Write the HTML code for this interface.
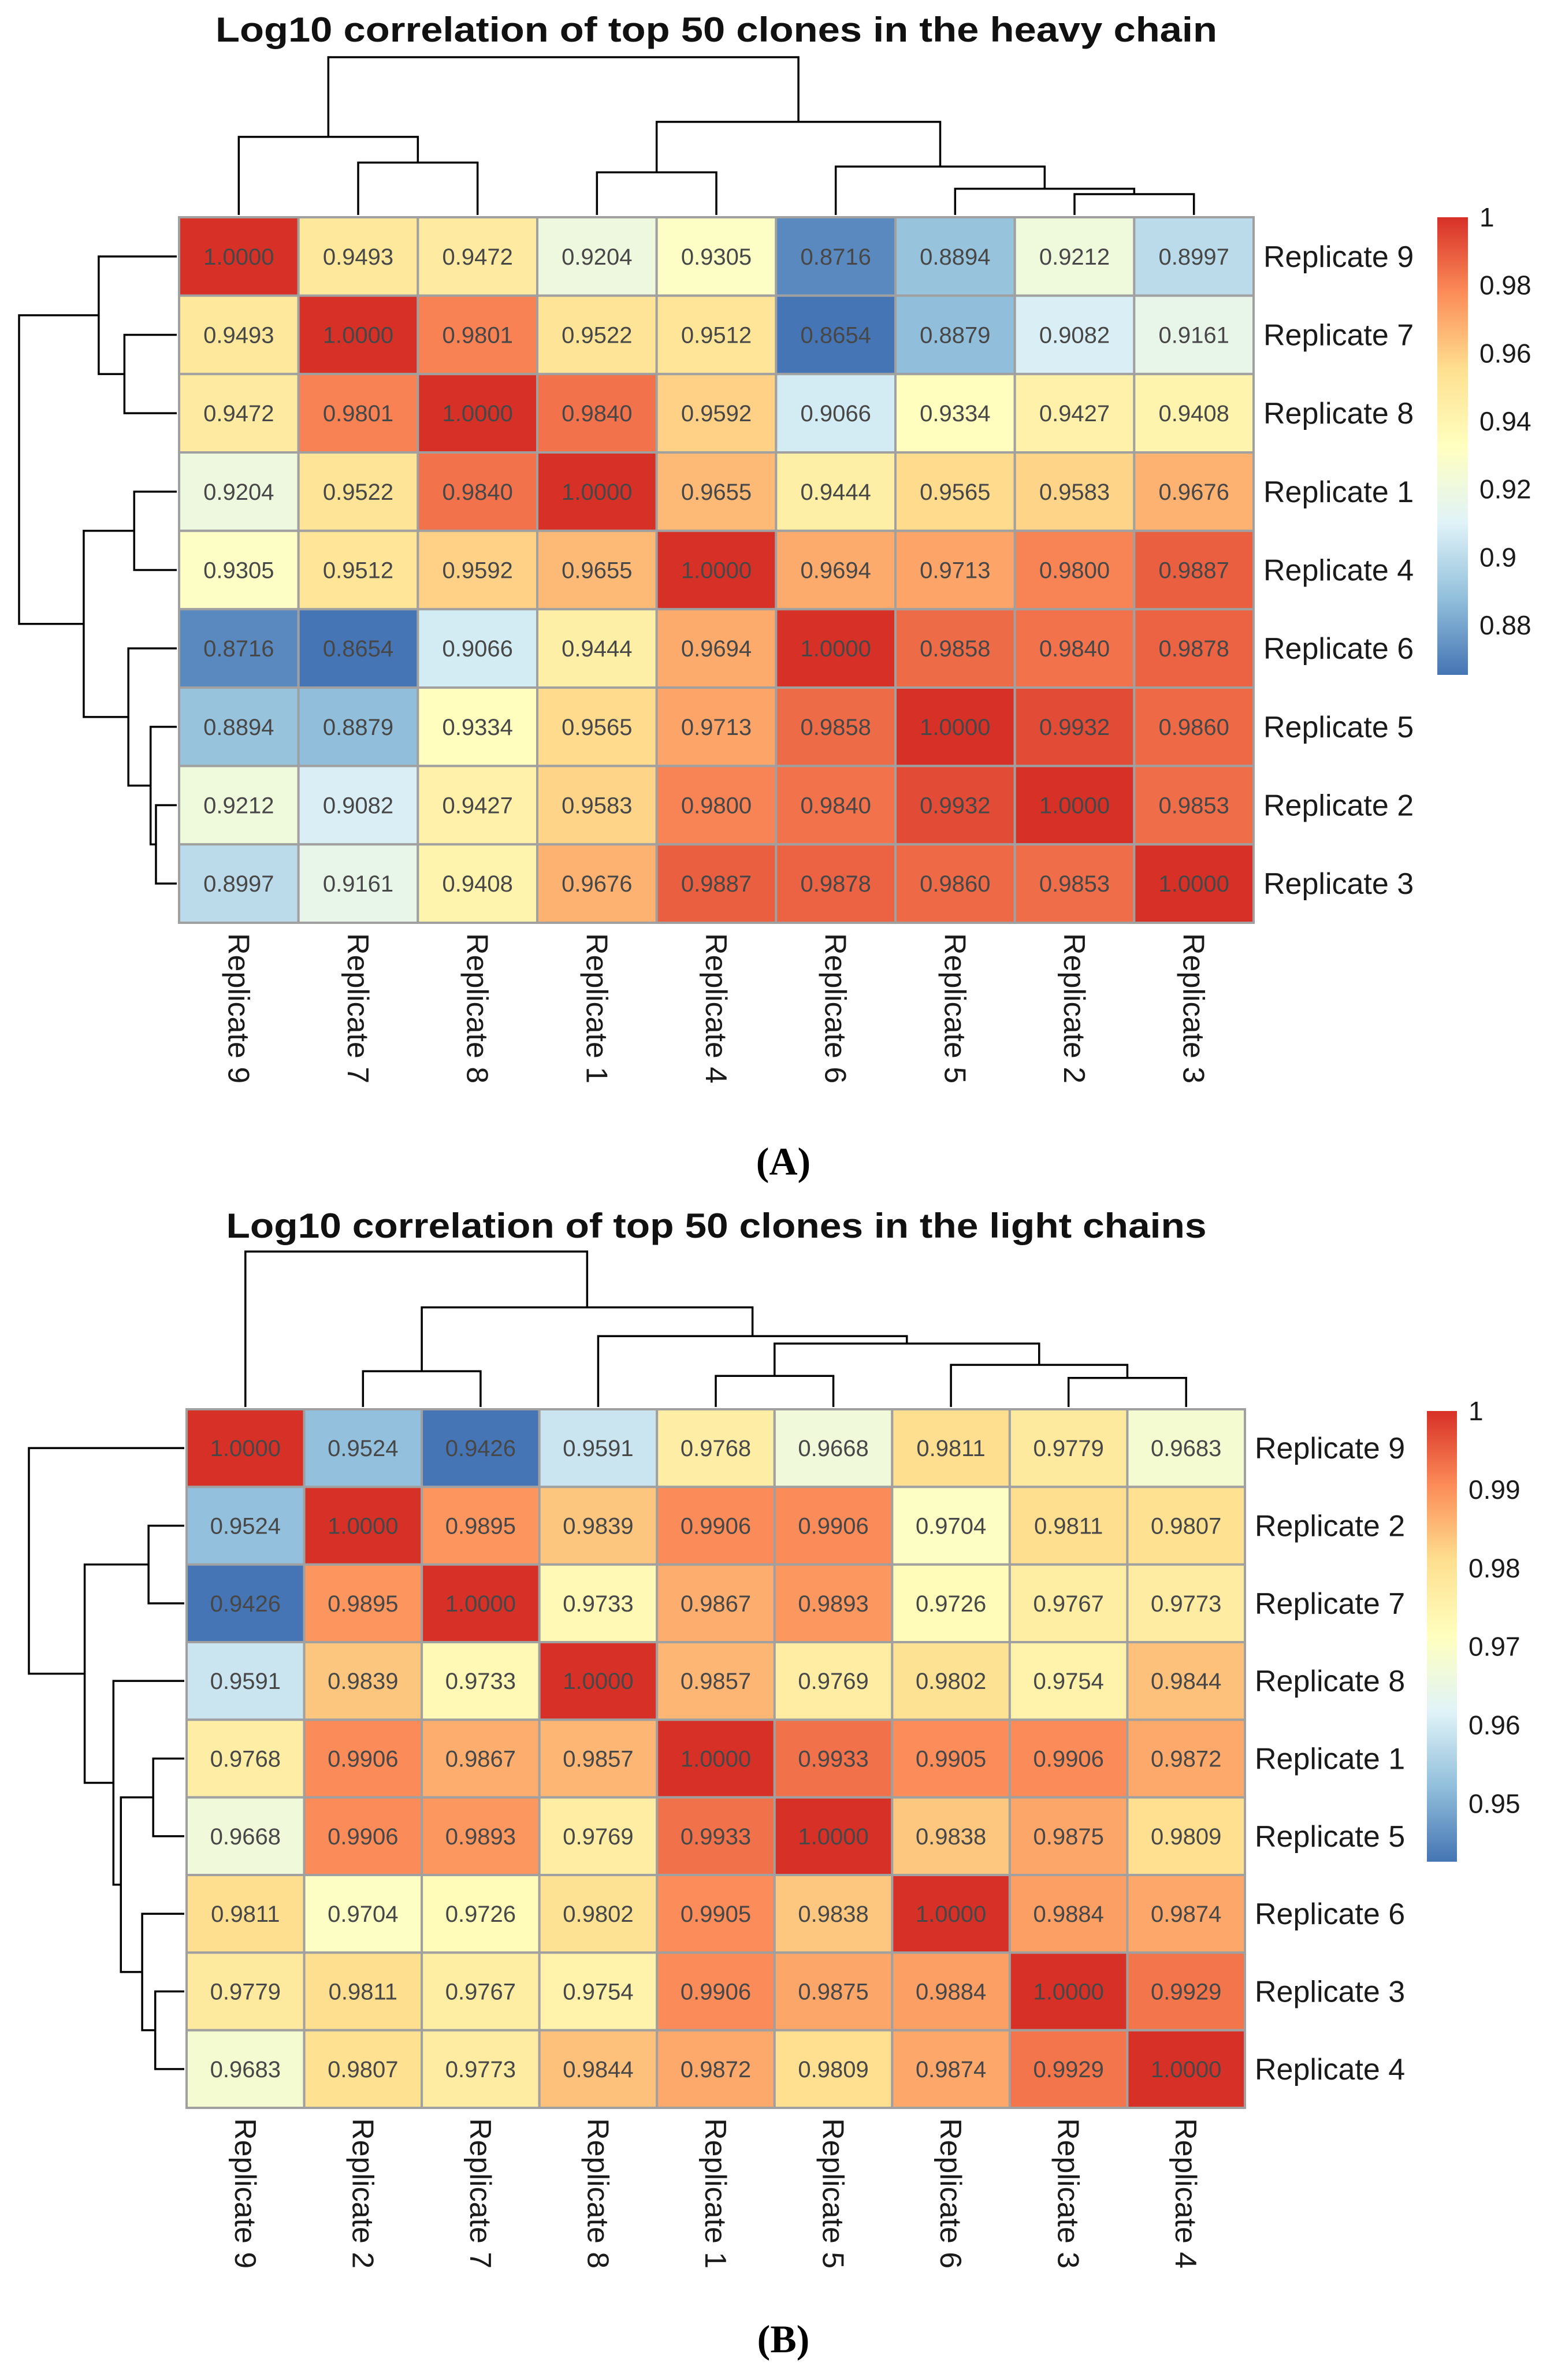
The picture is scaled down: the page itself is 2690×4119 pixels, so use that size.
<!DOCTYPE html>
<html><head><meta charset="utf-8"><style>
html,body{margin:0;padding:0;background:#fff}
svg{display:block}
</style></head><body>
<svg id="chart" xmlns="http://www.w3.org/2000/svg" width="2690" height="4119" viewBox="0 0 2690 4119">
<rect width="2690" height="4119" fill="#fff"/>
<text x="1240" y="72" font-family="Liberation Sans, sans-serif" font-weight="bold" font-size="60" text-anchor="middle" textLength="1734" lengthAdjust="spacingAndGlyphs" fill="#111">Log10 correlation of top 50 clones in the heavy chain</text>
<text x="1240" y="2142" font-family="Liberation Sans, sans-serif" font-weight="bold" font-size="60" text-anchor="middle" textLength="1697" lengthAdjust="spacingAndGlyphs" fill="#111">Log10 correlation of top 50 clones in the light chains</text>
<text x="1356" y="2033" font-family="Liberation Serif, serif" font-weight="bold" font-size="68" text-anchor="middle" fill="#000">(A)</text>
<text x="1356" y="4071" font-family="Liberation Serif, serif" font-weight="bold" font-size="68" text-anchor="middle" fill="#000">(B)</text>
<defs>
<linearGradient id="rdylbu" x1="0" y1="1" x2="0" y2="0">
<stop offset="0" stop-color="#4575B4"/><stop offset="0.1667" stop-color="#91BFDB"/><stop offset="0.3333" stop-color="#E0F3F8"/><stop offset="0.5" stop-color="#FFFFBF"/><stop offset="0.6667" stop-color="#FEE090"/><stop offset="0.8333" stop-color="#FC8D59"/><stop offset="1" stop-color="#D73027"/>
</linearGradient>
</defs>
</svg>
<script>
const labelsA = ["Replicate 9","Replicate 7","Replicate 8","Replicate 1","Replicate 4","Replicate 6","Replicate 5","Replicate 2","Replicate 3"];
const matrixA = [
[1.0000,0.9493,0.9472,0.9204,0.9305,0.8716,0.8894,0.9212,0.8997],
[0.9493,1.0000,0.9801,0.9522,0.9512,0.8654,0.8879,0.9082,0.9161],
[0.9472,0.9801,1.0000,0.9840,0.9592,0.9066,0.9334,0.9427,0.9408],
[0.9204,0.9522,0.9840,1.0000,0.9655,0.9444,0.9565,0.9583,0.9676],
[0.9305,0.9512,0.9592,0.9655,1.0000,0.9694,0.9713,0.9800,0.9887],
[0.8716,0.8654,0.9066,0.9444,0.9694,1.0000,0.9858,0.9840,0.9878],
[0.8894,0.8879,0.9334,0.9565,0.9713,0.9858,1.0000,0.9932,0.9860],
[0.9212,0.9082,0.9427,0.9583,0.9800,0.9840,0.9932,1.0000,0.9853],
[0.8997,0.9161,0.9408,0.9676,0.9887,0.9878,0.9860,0.9853,1.0000]];
const treeA = [[0,[1,2,0.332],0.495],[[3,4,0.27],[5,[6,[7,8,0.132],0.166],0.307],0.59],1.0];
const ticksA = [1,0.98,0.96,0.94,0.92,0.9,0.88];
const tickLabelsA = ["1","0.98","0.96","0.94","0.92","0.9","0.88"];

const labelsB = ["Replicate 9","Replicate 2","Replicate 7","Replicate 8","Replicate 1","Replicate 5","Replicate 6","Replicate 3","Replicate 4"];
const matrixB = [
[1.0000,0.9524,0.9426,0.9591,0.9768,0.9668,0.9811,0.9779,0.9683],
[0.9524,1.0000,0.9895,0.9839,0.9906,0.9906,0.9704,0.9811,0.9807],
[0.9426,0.9895,1.0000,0.9733,0.9867,0.9893,0.9726,0.9767,0.9773],
[0.9591,0.9839,0.9733,1.0000,0.9857,0.9769,0.9802,0.9754,0.9844],
[0.9768,0.9906,0.9867,0.9857,1.0000,0.9933,0.9905,0.9906,0.9872],
[0.9668,0.9906,0.9893,0.9769,0.9933,1.0000,0.9838,0.9875,0.9809],
[0.9811,0.9704,0.9726,0.9802,0.9905,0.9838,1.0000,0.9884,0.9874],
[0.9779,0.9811,0.9767,0.9754,0.9906,0.9875,0.9884,1.0000,0.9929],
[0.9683,0.9807,0.9773,0.9844,0.9872,0.9809,0.9874,0.9929,1.0000]];
const treeB = [0,[[1,2,0.23],[3,[[4,5,0.20],[6,[7,8,0.187],0.271],0.408],0.456],0.641],1.0];
const ticksB = [1,0.99,0.98,0.97,0.96,0.95];
const tickLabelsB = ["1","0.99","0.98","0.97","0.96","0.95"];

const NS = "http://www.w3.org/2000/svg";
const svg = document.getElementById("chart");
const palette = ["#4575B4","#91BFDB","#E0F3F8","#FFFFBF","#FEE090","#FC8D59","#D73027"];
function hex(c){return [1,3,5].map(i=>parseInt(c.substr(i,2),16));}
function colorAt(t){
  t=Math.max(0,Math.min(1,t));
  const s=t*(palette.length-1), i=Math.min(palette.length-2,Math.floor(s)), f=s-i;
  const a=hex(palette[i]), b=hex(palette[i+1]);
  return "rgb("+a.map((v,k)=>Math.round(v+(b[k]-v)*f)).join(",")+")";
}
function mk(tag, attrs, parent){
  const e=document.createElementNS(NS,tag);
  for(const k in attrs) e.setAttribute(k,attrs[k]);
  (parent||svg).appendChild(e); return e;
}

function panel(p, labels, matrix, tree, ticks, tickLabels, key){
  const g = mk("g",{});
  
  
  const n = labels.length;
  const cw = p.w/n, ch = p.h/n;
  let lo=Infinity, hi=-Infinity;
  matrix.forEach(r=>r.forEach(v=>{lo=Math.min(lo,v);hi=Math.max(hi,v);}));
  const xOf = j => p.x + cw*j;
  const yOf = i => p.y + ch*i;
  // cells
  for(let i=0;i<n;i++) for(let j=0;j<n;j++){
    const v=matrix[i][j];
    const r = mk("rect",{x:xOf(j),y:yOf(i),width:cw,height:ch,fill:colorAt((v-lo)/(hi-lo)),stroke:"#a0a0a0","stroke-width":4},g);
    
    
    const t = mk("text",{x:xOf(j)+cw/2,y:yOf(i)+ch/2+14,"text-anchor":"middle","font-family":"Liberation Sans, sans-serif","font-size":40,fill:"#474747"},g);
    t.textContent = v.toFixed(4);
    
    
  }
  // row labels
  for(let i=0;i<n;i++){
    const t = mk("text",{x:p.x+p.w+17,y:yOf(i)+ch/2+18,"font-family":"Liberation Sans, sans-serif","font-size":52,fill:"#1a1a1a"},g);
    t.textContent = labels[i];
    
    
  }
  // col labels
  for(let j=0;j<n;j++){
    const cx = xOf(j)+cw/2, cy = p.y+p.h+18;
    const t = mk("text",{x:0,y:0,transform:"translate("+(cx-18)+","+cy+") rotate(90)","font-family":"Liberation Sans, sans-serif","font-size":52,fill:"#1a1a1a"},g);
    t.textContent = labels[j];
    
    
  }
  // dendrograms
  function draw(node, orient){
    if(typeof node==="number"){
      return {pos: orient==="top" ? xOf(node)+cw/2 : yOf(node)+ch/2, h:0};
    }
    const a=draw(node[0],orient), b=draw(node[1],orient), h=node[2];
    const gap=4;
    if(orient==="top"){
      const yl = p.y-gap, yOfH = hh => yl - hh*p.span;
      const d="M"+a.pos+","+yOfH(a.h)+"V"+yOfH(h)+"H"+b.pos+"V"+yOfH(b.h);
      const path=mk("path",{d:d,fill:"none",stroke:"#000","stroke-width":3.5},g);
      
      
    } else {
      const xl = p.x-gap, xOfH = hh => xl - hh*p.span;
      const d="M"+xOfH(a.h)+","+a.pos+"H"+xOfH(h)+"V"+b.pos+"H"+xOfH(b.h);
      const path=mk("path",{d:d,fill:"none",stroke:"#000","stroke-width":3.5},g);
      
      
    }
    return {pos:(a.pos+b.pos)/2, h:h};
  }
  draw(tree,"top");
  draw(tree,"left");
  // colorbar
  const cb = mk("rect",{x:p.cbx,y:p.cby,width:p.cbw,height:p.cbh,fill:"url(#rdylbu)"},g);
  
  
  ticks.forEach((tv,k)=>{
    const yy = p.cby + (hi-tv)/(hi-lo)*p.cbh;
    const t = mk("text",{x:p.cbx+p.cbw+20,y:yy+16,"font-family":"Liberation Sans, sans-serif","font-size":46,fill:"#1a1a1a"},g);
    t.textContent = tickLabels[k];
    
    
  });
}
panel({x:310,y:376,w:1860,h:1221,span:273,cbx:2488,cby:376,cbw:53,cbh:792}, labelsA, matrixA, treeA, ticksA, tickLabelsA, "heavy-chain");
panel({x:323,y:2439,w:1832,h:1209,span:269,cbx:2470,cby:2442,cbw:52,cbh:780}, labelsB, matrixB, treeB, ticksB, tickLabelsB, "light-chain");
</script>
</body></html>
